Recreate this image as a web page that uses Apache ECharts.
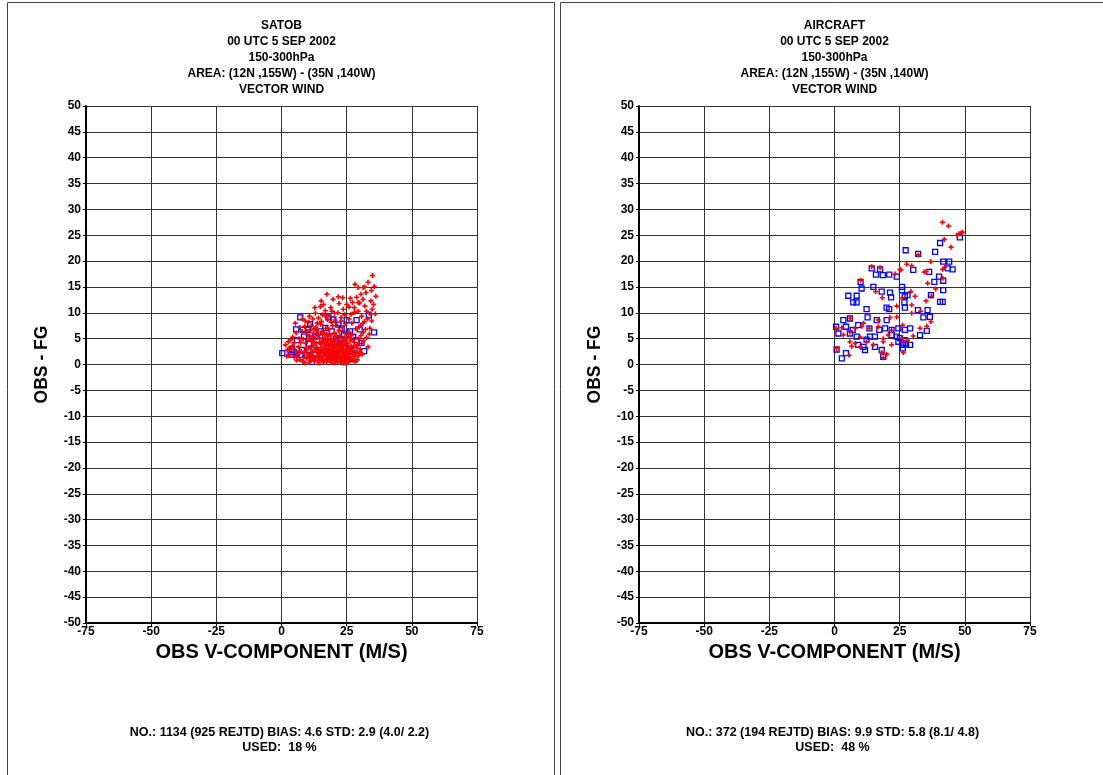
<!DOCTYPE html>
<html>
<head>
<meta charset="utf-8">
<script src="https://cdn.jsdelivr.net/npm/echarts@6/dist/echarts.min.js"></script>
<style>
  html, body { margin: 0; padding: 0; background: #fff; }
  #chart { width: 1103px; height: 775px; }
</style>
</head>
<body>
<div id="chart"></div>
<script>
// axis ranges / tick steps
const xRange = [-75, 75]
const xStep = 25
const yRange = [-50, 50]
const yStep = 5

const xName = 'OBS V-COMPONENT (M/S)'
const yName = 'OBS - FG'

const satobTitle = ['SATOB', '00 UTC 5 SEP 2002', '150-300hPa', 'AREA: (12N ,155W) - (35N ,140W)', 'VECTOR WIND']
const aircraftTitle = ['AIRCRAFT', '00 UTC 5 SEP 2002', '150-300hPa', 'AREA: (12N ,155W) - (35N ,140W)', 'VECTOR WIND']
const satobStats = ['NO.: 1134 (925 REJTD) BIAS: 4.6 STD: 2.9 (4.0/ 2.2)', 'USED:  18 %']
const aircraftStats = ['NO.: 372 (194 REJTD) BIAS: 9.9 STD: 5.8 (8.1/ 4.8)', 'USED:  48 %']

// SATOB: rejected (red +) and used (blue squares)
const satobRejected = [
  [8.1,0.6],[8.7,2.3],[9.2,4.1],[9.6,1.2],[9.9,5.8],[10.3,3.2],[10.6,0.4],[10.9,6.7],[11.2,2.0],[11.5,4.6],
  [11.8,1.1],[12.1,3.7],[12.4,5.3],[12.7,0.7],[12.9,2.8],[13.2,7.2],[13.4,4.1],[13.7,1.6],[13.9,6.0],[14.1,3.0],
  [14.3,0.3],[14.6,5.1],[14.8,2.2],[15.0,7.8],[15.2,3.9],[15.4,1.0],[15.6,6.4],[15.8,2.7],[16.0,4.8],[16.2,0.6],
  [16.4,3.4],[16.6,5.9],[16.8,1.8],[17.0,7.0],[17.2,4.3],[17.4,2.5],[17.6,0.9],[17.8,5.5],[18.0,3.1],[18.2,6.8],
  [18.4,1.4],[18.6,4.0],[18.8,2.0],[19.0,0.4],[19.2,5.0],[19.4,3.5],[19.6,7.5],[19.8,1.2],[20.0,4.4],[20.2,2.7],
  [20.4,6.1],[20.6,0.8],[20.8,3.8],[21.0,5.6],[21.2,1.9],[21.4,4.9],[21.6,0.5],[21.8,3.0],[22.0,6.6],[22.2,2.3],
  [22.4,4.2],[22.6,1.1],[22.8,5.3],[23.0,3.4],[23.2,0.7],[23.4,7.1],[23.6,2.6],[23.8,4.7],[24.0,1.5],[24.2,3.9],
  [24.4,6.0],[24.6,0.9],[24.8,2.9],[25.0,5.1],[25.2,1.8],[25.4,4.0],[25.6,0.4],[25.8,3.2],[26.0,6.3],[26.2,2.1],
  [26.4,4.6],[26.6,1.2],[26.8,3.6],[27.0,5.7],[27.3,0.8],[27.6,2.7],[27.9,4.3],[28.2,1.5],[28.5,6.9],[28.8,3.3],
  [29.1,0.9],[29.5,5.0],[29.9,2.4],[30.3,7.6],[30.8,4.1],[31.3,6.2],[31.8,8.3],
  [14.5,1.3],[15.1,2.9],[15.9,1.7],[16.3,4.1],[16.9,3.0],[17.5,1.2],[17.9,3.9],[18.5,2.7],[18.9,4.8],[19.3,1.8],
  [19.9,3.1],[20.3,0.3],[20.7,2.1],[21.1,4.0],[21.5,1.4],[21.9,2.6],[22.3,3.7],[22.7,0.5],[23.1,4.5],[23.5,1.9],
  [23.9,3.0],[24.3,2.2],[24.7,4.1],[25.1,0.8],[25.5,2.5],[25.9,1.5],[26.3,3.0],[16.1,2.3],[17.3,5.9],[18.7,0.9],
  [19.5,2.3],[20.9,1.3],[22.5,1.6],[23.3,2.9],[24.1,0.3],[19.1,3.9],[21.3,3.3],[17.7,2.1],[15.5,0.7],[13.6,2.4],
  [12.3,1.5],[11.0,3.3],[10.1,1.9],[9.4,3.1],[8.4,1.4],[7.6,2.5],[7.1,0.9],[6.5,3.4],[6.0,1.7],[5.4,2.6],
  [4.8,4.2],[4.3,5.3],[3.8,3.0],[3.2,1.9],[2.6,4.4],[2.2,2.8],[5.6,6.1],[6.8,5.0],[7.9,6.4],[8.9,7.4],
  [10.4,8.2],[12.0,8.8],[13.0,9.9],[14.2,9.0],[16.1,11.6],[17.4,13.6],[16.8,10.4],[18.2,9.4],[19.3,10.3],[20.5,8.6],
  [21.6,10.0],[22.8,9.1],[23.7,10.7],[25.0,11.6],[25.9,11.1],[26.7,9.7],[27.9,11.0],[27.2,12.0],[28.8,13.0],[29.4,12.0],
  [29.4,10.3],[30.5,13.6],[31.3,12.6],[32.0,11.3],[32.4,13.9],[32.6,10.3],[33.0,8.8],[33.9,7.0],[34.3,12.3],[34.5,14.3],
  [34.8,10.7],[30.7,9.3],[31.3,8.0],[29.8,7.2],[28.2,15.5],[29.4,14.9],[31.3,14.9],[32.0,15.0],[33.2,15.9],[34.9,17.2],
  [35.6,15.1],[36.2,13.2],[27.0,8.0],[26.0,8.8],[24.5,7.9],[23.0,8.4],[21.3,7.6],[19.0,8.2],[17.6,8.7],[15.7,9.6],
  [14.9,11.2],[13.7,8.0],[12.6,6.9],[11.4,7.5],[9.1,8.4],[5.3,8.0],
  [9.0,0.3],[9.5,2.6],[10.0,4.7],[10.5,1.5],[11.0,5.1],[11.4,0.9],[11.9,2.5],[12.5,4.3],[13.0,1.3],[13.3,3.2],
  [13.8,5.6],[14.0,0.8],[14.4,2.0],[14.7,4.3],[15.1,6.0],[15.3,2.4],[15.7,4.4],[16.1,1.1],[16.5,2.7],[16.7,5.1],
  [17.1,3.6],[17.3,0.5],[17.7,4.7],[18.1,1.9],[18.3,3.6],[18.8,5.7],[19.1,2.8],[19.5,0.9],[19.7,4.3],[20.1,1.6],
  [20.4,3.4],[20.6,5.0],[21.0,2.4],[21.2,0.9],[21.7,3.7],[22.1,1.9],[22.4,5.6],[22.8,2.8],[23.2,4.0],[23.6,0.3],
  [23.9,2.1],[24.4,4.9],[24.8,1.2],[25.3,3.3],[25.7,5.4],[26.0,1.0],[26.5,2.6],[26.9,4.9],[27.4,2.0],[27.8,3.5],
  [28.3,0.5],[28.6,2.2],[29.2,3.9],[29.6,1.7],[30.2,3.0],[30.5,5.6],[31.0,2.0],[31.5,4.6],[32.2,6.8],[32.6,5.2],
  [33.2,3.4],[33.7,5.9],[34.6,8.4],[35.3,11.6],[36.0,9.8],[34.0,9.8],[30.0,11.9],[28.0,10.1],[26.4,12.8],[24.2,9.6],
  [22.1,11.8],[20.3,9.9],[18.9,11.0],[17.0,9.3],[15.3,8.3],[13.5,6.5],[12.2,6.1],[10.8,5.5],[9.7,6.4],[8.3,4.9],
  [7.4,4.2],[6.6,2.2],[5.8,0.8],[4.9,1.4],[4.2,3.6],[3.5,4.8],[2.9,3.2],[2.0,1.6],[1.5,3.8],[7.0,7.2],
  [8.0,8.8],[10.7,9.3],[12.8,11.0],[15.2,12.3],[19.8,12.6],[21.8,13.1],[23.5,12.9]
]
const satobUsed = [
  [0.3,2.2],[7.2,9.1],[5.6,6.8],[8.2,6.7],[10.2,6.7],[11.0,7.8],[18.0,9.1],[19.9,8.7],[21.8,7.7],[25.0,8.6],
  [28.8,8.6],[33.5,9.5],[35.5,6.2],[30.7,4.2],[28.8,4.7],[31.7,2.6],[4.1,2.9],[4.7,2.4],[6.0,2.1],[7.9,2.8],
  [9.8,1.8],[12.3,2.8],[14.2,3.8],[16.8,5.4],[19.3,6.4],[23.1,7.0],[26.3,6.4],[27.5,5.4],[25.0,2.1],[26.9,1.1],
  [22.5,0.9],[18.0,1.5],[15.5,2.1],[11.7,0.5],[7.2,1.8],[13.0,5.4],[14.9,6.4],[16.8,7.1],[8.6,5.4],[6.0,4.7],
  [20.5,3.0],[23.5,4.1],[17.5,3.3],[10.6,4.0],[28.0,2.9],[24.0,5.8],[21.0,5.0],[12.0,1.2],[3.5,1.9],[30.0,6.8]
]

// AIRCRAFT
const aircraftUsed = [
  [48.1,24.6],[40.5,23.5],[38.6,21.8],[27.3,22.1],[32.1,21.4],[41.7,19.9],[44.0,19.9],[30.2,18.3],[36.3,17.9],[45.3,18.4],
  [43.5,18.6],[40.1,17.0],[38.3,16.0],[41.7,16.2],[41.7,14.4],[25.9,15.0],[25.9,14.4],[27.0,13.2],[28.0,13.4],[37.0,13.4],
  [40.5,12.1],[41.5,12.1],[26.8,12.0],[32.0,10.5],[35.7,10.5],[27.0,11.0],[34.1,9.1],[36.6,9.2],[27.0,6.7],[29.0,7.0],
  [35.4,6.5],[32.8,5.7],[27.0,4.7],[26.1,4.2],[27.4,4.0],[29.0,3.8],[26.2,3.1],
  [14.3,18.6],[17.5,18.4],[15.9,17.4],[18.5,17.3],[21.0,17.4],[23.9,17.0],[10.0,16.0],[10.4,14.7],[14.9,15.0],[18.1,14.1],
  [21.3,13.9],[21.7,13.0],[5.3,13.3],[8.5,13.3],[7.2,12.0],[8.5,12.0],[12.3,10.7],[20.0,11.0],[21.0,10.7],[3.4,8.6],
  [5.9,8.9],[12.7,9.1],[16.2,8.6],[20.0,8.6],[0.6,7.3],[4.4,7.3],[7.0,6.7],[9.1,7.6],[13.4,7.0],[17.2,6.7],
  [19.4,7.0],[21.9,6.7],[24.5,7.0],[1.5,6.0],[5.9,6.0],[8.5,5.4],[13.6,5.4],[15.5,5.4],[21.9,5.7],[23.9,5.4],
  [25.1,5.1],[9.1,3.8],[11.1,3.4],[15.5,3.4],[0.8,2.9],[4.4,2.2],[2.8,1.2],[18.7,1.5],[18.1,2.8],[11.7,2.8],
  [26.4,3.8],[24.5,4.4],[12.3,4.8]
]
const aircraftRejected = [
  [41.4,27.5],[43.7,26.8],[47.0,25.0],[47.8,25.3],[48.6,25.4],[49.0,25.6],[42.1,24.2],[44.7,22.7],[32.1,21.2],[36.9,19.9],
  [27.7,19.4],[29.6,19.1],[25.1,18.4],[34.4,17.9],[35.2,18.0],[41.5,18.4],[42.3,18.8],[41.6,16.7],[35.7,15.7],[38.8,14.6],
  [29.3,14.1],[30.9,13.2],[37.2,13.2],[35.1,12.3],[29.6,11.5],[33.0,10.3],[29.6,9.9],[37.0,8.3],[35.4,7.4],[32.8,7.0],
  [30.2,5.5],[28.0,4.7],[25.8,5.1],[26.4,2.3],[14.3,18.9],[17.5,18.7],[23.2,17.5],[25.4,18.3],[10.0,16.3],[15.8,14.1],
  [18.3,12.9],[23.9,11.3],[26.0,12.9],[6.0,8.9],[16.8,8.6],[21.3,9.1],[23.9,9.2],[13.3,7.0],[0.6,7.0],[2.8,7.1],
  [7.9,7.0],[11.1,8.0],[16.8,7.3],[21.9,6.6],[26.1,7.6],[3.4,5.7],[5.9,6.3],[9.8,5.3],[12.3,4.4],[18.7,5.0],
  [20.6,5.7],[26.4,4.4],[5.9,4.4],[7.9,4.1],[9.8,3.4],[14.9,3.8],[18.7,4.4],[6.6,3.5],[5.6,1.8],[18.1,2.3],
  [18.7,1.3],[21.9,3.8],[0.8,3.1],[10.5,7.4],[20.0,2.0]
]

const FONT = '"Liberation Sans", Arial, sans-serif'
// filled plus sign, arms ~1/3 of the symbol size
const plusPath = 'path://M3.4,0H6.6V3.4H10V6.6H6.6V10H3.4V6.6H0V3.4H3.4Z'

const panels = [
  { left: 86, center: 281.5, title: satobTitle, stats: satobStats, rejected: satobRejected, used: satobUsed },
  { left: 639, center: 834.5, title: aircraftTitle, stats: aircraftStats, rejected: aircraftRejected, used: aircraftUsed }
]

const chart = echarts.init(document.getElementById('chart'))

const axisLabel = { color: '#000', fontWeight: 'bold', fontSize: 12, fontFamily: FONT }
const splitLine = { show: true, lineStyle: { color: '#333', width: 1 } }

const graphic = [
  { type: 'rect', shape: { x: 7.5, y: 2.5, width: 547, height: 800 }, style: { fill: 'none', stroke: '#444', lineWidth: 1 }, silent: true },
  { type: 'rect', shape: { x: 560.5, y: 2.5, width: 600, height: 800 }, style: { fill: 'none', stroke: '#444', lineWidth: 1 }, silent: true }
]
panels.forEach(p => {
  p.title.forEach((t, i) => {
    graphic.push({ type: 'text', silent: true, style: {
      text: t, x: p.center, y: 26 + i * 15.8, align: 'center', verticalAlign: 'middle',
      font: 'bold 12px ' + FONT, fill: '#000' } })
  })
  p.stats.forEach((t, i) => {
    graphic.push({ type: 'text', silent: true, style: {
      text: t, x: p.center - 2, y: 732.5 + i * 15, align: 'center', verticalAlign: 'middle',
      font: 'bold 12.5px ' + FONT, fill: '#000' } })
  })
})

const option = {
  animation: false,
  backgroundColor: '#fff',
  grid: panels.map(p => ({ left: p.left, top: 106, width: 391, height: 517 })),
  xAxis: panels.map((p, i) => ({
    type: 'value', gridIndex: i, min: xRange[0], max: xRange[1], interval: xStep,
    axisLine: { onZero: false, lineStyle: { color: '#000', width: 2 } },
    axisTick: { show: true, length: 3, lineStyle: { color: '#000' } },
    axisLabel: { ...axisLabel, margin: 3 },
    splitLine,
    name: xName, nameLocation: 'middle', nameGap: 18,
    nameTextStyle: { color: '#000', fontWeight: 'bold', fontSize: 20, fontFamily: FONT }
  })),
  yAxis: panels.map((p, i) => ({
    type: 'value', gridIndex: i, min: yRange[0], max: yRange[1], interval: yStep,
    axisLine: { onZero: false, lineStyle: { color: '#000', width: 2 } },
    axisTick: { show: true, length: 3, lineStyle: { color: '#000' } },
    axisLabel: { ...axisLabel, margin: 5 },
    splitLine,
    name: yName, nameLocation: 'middle', nameGap: 35,
    nameTextStyle: { color: '#000', fontWeight: 'bold', fontSize: 17.5, fontFamily: FONT }
  })),
  // used (blue squares) first, rejected (red +) drawn over them
  series: panels.flatMap((p, i) => [
    {
      type: 'scatter', xAxisIndex: i, yAxisIndex: i, data: p.used,
      symbol: 'rect', symbolSize: 5, silent: true,
      itemStyle: { color: 'rgba(0,0,0,0)', borderColor: '#0000ff', borderWidth: 1.3, opacity: 1 },
      emphasis: { disabled: true }
    },
    {
      type: 'scatter', xAxisIndex: i, yAxisIndex: i, data: p.rejected,
      symbol: plusPath, symbolSize: 5, silent: true,
      itemStyle: { color: '#ff0000', opacity: 1 }, emphasis: { disabled: true }
    }
  ]),
  graphic
}

chart.setOption(option)
</script>
</body>
</html>
